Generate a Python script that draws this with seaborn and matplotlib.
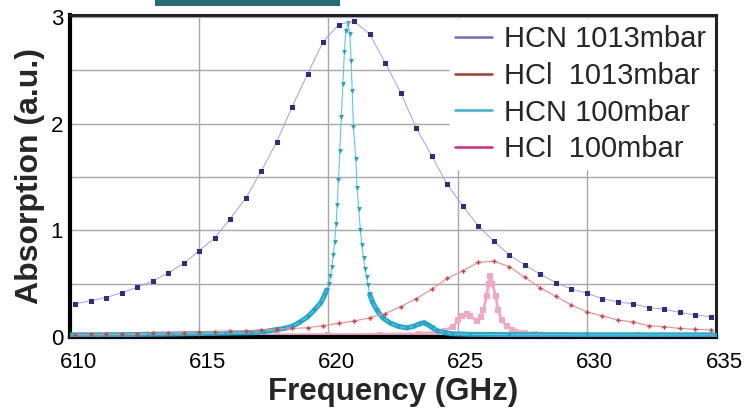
import matplotlib
matplotlib.use("Agg")
import matplotlib.pyplot as plt
import matplotlib.transforms as mtransforms
from matplotlib.lines import Line2D
from matplotlib.patches import Rectangle
import numpy as np
import pandas as pd
import seaborn as sns

# --- data ---
freq_1013 = [610.2, 610.8, 611.4, 612.0, 612.6, 613.2, 613.8, 614.4, 615.0, 615.6,
             616.2, 616.8, 617.4, 618.0, 618.6, 619.2, 619.8, 620.4, 621.0, 621.6,
             622.2, 622.8, 623.4, 624.0, 624.6, 625.2, 625.8, 626.4, 627.0, 627.6,
             628.2, 628.8, 629.4, 630.0, 630.6, 631.2, 631.8, 632.4, 633.0, 633.6,
             634.2, 634.8]
hcn_1013 = [0.31, 0.34, 0.37, 0.415, 0.466, 0.525, 0.60, 0.69, 0.81, 0.93,
            1.11, 1.30, 1.556, 1.83, 2.16, 2.47, 2.77, 2.93, 2.96, 2.84,
            2.57, 2.29, 1.96, 1.70, 1.43, 1.23, 1.04, 0.90, 0.77, 0.675,
            0.59, 0.51, 0.45, 0.41, 0.36, 0.33, 0.31, 0.275, 0.26, 0.23,
            0.206, 0.19]
hcl_1013 = [0.022, 0.024, 0.026, 0.028, 0.031, 0.034, 0.037, 0.041, 0.045, 0.049,
            0.054, 0.06, 0.066, 0.073, 0.08, 0.087, 0.106, 0.128, 0.15, 0.18,
            0.22, 0.285, 0.36, 0.447, 0.55, 0.62, 0.70, 0.71, 0.66, 0.56,
            0.46, 0.38, 0.30, 0.237, 0.197, 0.16, 0.14, 0.106, 0.096, 0.08,
            0.072, 0.066]

freq_hcn_100 = [610.0, 611.0, 612.0, 613.0, 614.0, 615.0, 616.0, 617.0, 617.5, 618.0,
                618.3, 618.6, 618.9, 619.2, 619.45, 619.7, 619.85, 619.93, 620.03, 620.08,
                620.13, 620.19, 620.24, 620.30, 620.34, 620.39, 620.44, 620.50, 620.56, 620.62,
                620.67, 620.76, 620.83, 620.88, 620.92, 620.97, 621.06, 621.11, 621.17, 621.24,
                621.29, 621.36, 621.41, 621.48, 621.53, 621.6, 621.7, 621.88, 622.1, 622.4,
                622.7, 623.04, 623.3, 623.55, 623.7, 623.85, 624.0, 624.2, 624.5, 624.8,
                625.5, 627.0, 630.0, 635.0]
hcn_100 = [0.02, 0.02, 0.022, 0.025, 0.028, 0.032, 0.036, 0.04, 0.05, 0.07,
           0.08, 0.10, 0.14, 0.19, 0.25, 0.32, 0.39, 0.44, 0.50, 0.57,
           0.66, 0.77, 0.89, 1.06, 1.24, 1.47, 1.74, 2.06, 2.37, 2.67,
           2.87, 2.94, 2.84, 2.59, 2.31, 1.97, 1.67, 1.40, 1.20, 1.00,
           0.86, 0.74, 0.64, 0.56, 0.49, 0.40, 0.33, 0.25, 0.18, 0.13,
           0.10, 0.085, 0.10, 0.125, 0.135, 0.115, 0.09, 0.06, 0.04, 0.03,
           0.025, 0.022, 0.02, 0.02]

freq_hcl_100 = [610.0, 612.0, 614.0, 616.0, 618.0, 620.0, 622.0, 623.5, 624.2, 624.5,
                624.83, 625.03, 625.16, 625.35, 625.5, 625.74, 625.9, 626.0, 626.12, 626.2,
                626.27, 626.35, 626.48, 626.57, 626.7, 626.9, 627.1, 627.28, 627.6, 628.0,
                629.0, 630.0, 632.0, 635.0]
hcl_100 = [0.012, 0.012, 0.013, 0.014, 0.015, 0.017, 0.02, 0.025, 0.04, 0.06,
           0.097, 0.16, 0.20, 0.22, 0.20, 0.15, 0.19, 0.25, 0.38, 0.50,
           0.57, 0.50, 0.38, 0.25, 0.16, 0.10, 0.07, 0.05, 0.035, 0.028,
           0.022, 0.018, 0.015, 0.012]

legend_labels = ["HCN 1013mbar", "HCl  1013mbar", "HCN 100mbar", "HCl  100mbar"]
legend_colors = ["#6b6bc0", "#a63a2c", "#35b3d3", "#e0247e"]
x_ticks = [610, 615, 620, 625, 630, 635]
y_ticks = [0, 1, 2, 3]

sns.set_theme(style="white")
plt.rcParams['font.family'] = ['Liberation Sans', 'DejaVu Sans']

fig = plt.figure(figsize=(7.45, 4.15), dpi=100)
ax = fig.add_axes([0.094, 0.188, 0.867, 0.776])

df_1013 = pd.DataFrame({'f': freq_1013, 'hcn': hcn_1013, 'hcl': hcl_1013})
df_hcn = pd.DataFrame({'f': freq_hcn_100, 'a': hcn_100})
df_hcl = pd.DataFrame({'f': freq_hcl_100, 'a': hcl_100})

# HCl 100 mbar (pink) - thicker where the points crowd together
for part in (df_hcl[df_hcl['f'] <= 624.5], df_hcl[df_hcl['f'] >= 627.1]):
    sns.lineplot(ax=ax, data=part, x='f', y='a', color='#f6b3cc', lw=3,
                 sort=False, estimator=None, zorder=2)
sns.lineplot(ax=ax, data=df_hcl, x='f', y='a', color='#f4a6c4', lw=2, marker='s',
             markersize=4, markeredgewidth=0, sort=False, estimator=None, zorder=2)

# HCN 100 mbar (cyan) - thick tails where points overlap
left = df_hcn[df_hcn['f'] <= 619.93]
right = df_hcn[df_hcn['f'] >= 621.6]
for part in (left, right):
    sns.lineplot(ax=ax, data=part, x='f', y='a', color='#1fa9cc', lw=3.6,
                 sort=False, estimator=None, zorder=3)
sns.lineplot(ax=ax, data=df_hcn, x='f', y='a', color='#5cc8e4', lw=0.8, marker='v',
             markersize=3.5, markerfacecolor='#1fa3c8', markeredgewidth=0,
             sort=False, estimator=None, zorder=3)

# 1013 mbar curves
sns.lineplot(ax=ax, data=df_1013, x='f', y='hcl', color='#f08a8a', lw=0.8, marker='P',
             markersize=3.2, markerfacecolor='#d83a3a', markeredgewidth=0,
             sort=False, estimator=None, zorder=4)
sns.lineplot(ax=ax, data=df_1013, x='f', y='hcn', color='#a0a0e4', lw=0.7, marker='s',
             markersize=3.6, markerfacecolor='#2b2d86', markeredgewidth=0,
             sort=False, estimator=None, zorder=5)

ax.set_xlim(610, 635)
ax.set_ylim(0, 3.02)
ax.set_xticks(x_ticks)
ax.set_yticks(y_ticks)
ax.set_yticks(np.arange(0, 3.01, 0.5), minor=True)
ax.grid(True, which='major', axis='x', color='#a8a8a8', lw=1)
ax.grid(True, which='both', axis='y', color='#a8a8a8', lw=1)
ax.tick_params(axis='both', which='both', length=0, labelsize=16, colors='black')
ax.tick_params(axis='x', pad=11)
ax.tick_params(axis='y', pad=5)
offset = mtransforms.ScaledTranslation(8 / 100, 0, fig.dpi_scale_trans)
for lab in ax.get_xticklabels():
    lab.set_transform(lab.get_transform() + offset)

ax.set_xlabel('Frequency (GHz)', fontsize=22.5, fontweight='bold', labelpad=3)
ax.set_ylabel('Absorption (a.u.)', fontsize=23, fontweight='bold', labelpad=4)

for side in ['left', 'bottom']:
    ax.spines[side].set_linewidth(3)
    ax.spines[side].set_color('black')
for side in ['top', 'right']:
    ax.spines[side].set_linewidth(2.2)
    ax.spines[side].set_color('#222222')

handles = [Line2D([0], [0], color=c, lw=1.8) for c in legend_colors]
leg = ax.legend(handles, legend_labels, loc='upper right', bbox_to_anchor=(1.0, 1.0),
                borderaxespad=0.15, fontsize=21, frameon=True, fancybox=False,
                framealpha=1, facecolor='white', edgecolor='white',
                handlelength=1.25, handletextpad=0.4, labelspacing=0.3,
                borderpad=0.2)
leg.set_zorder(10)

# teal band at the top edge
fig.add_artist(Rectangle((0.208, 0.985), 0.248, 0.02, transform=fig.transFigure,
                         color='#286b78', lw=0))

fig.savefig('out.png', dpi=100)
